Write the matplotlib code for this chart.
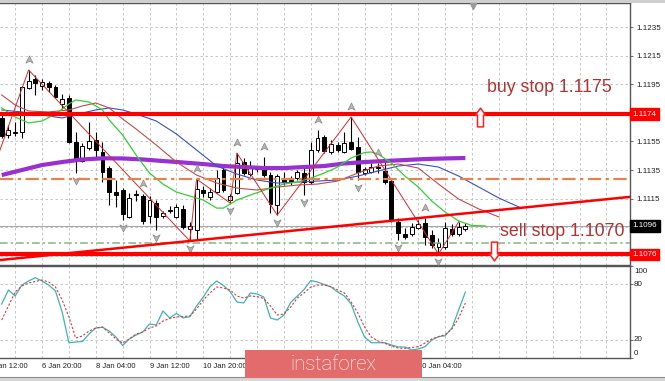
import numpy as np
import matplotlib
matplotlib.use("Agg")
import matplotlib.pyplot as plt
import matplotlib.transforms as mtransforms
from matplotlib.path import Path
from matplotlib.patches import Rectangle

# ----- Chart data (EURUSD H4) -----
bar_open = [1.11714, 1.11595, 1.11619, 1.11616, 1.11924, 1.11987, 1.11938, 1.11959, 1.11931, 1.11812,
            1.11854, 1.11546, 1.11413, 1.11504, 1.11560, 1.11476, 1.11364, 1.11196, 1.11210, 1.11022,
            1.11175, 1.11168, 1.11029, 1.11119, 1.11029, 1.11071, 1.11022, 1.11078, 1.10938, 1.10931,
            1.11210, 1.11161, 1.11196, 1.11350, 1.11140, 1.11189, 1.11406, 1.11322, 1.11361, 1.11364,
            1.11315, 1.11105, 1.11294, 1.11280, 1.11294, 1.11329, 1.11266, 1.11490, 1.11581, 1.11476,
            1.11525, 1.11476, 1.11546, 1.11511, 1.11329, 1.11336, 1.11364, 1.11343, 1.11273, 1.10987,
            1.10903, 1.10903, 1.10945, 1.10980, 1.10896, 1.10812, 1.10812, 1.10938, 1.10903, 1.10938]
bar_high = [1.11735, 1.11665, 1.11686, 1.11938, 1.12050, 1.12015, 1.11987, 1.11973, 1.11945, 1.11882,
            1.11875, 1.11616, 1.11539, 1.11686, 1.11616, 1.11546, 1.11378, 1.11280, 1.11224, 1.11189,
            1.11210, 1.11182, 1.11168, 1.11140, 1.11064, 1.11098, 1.11112, 1.11105, 1.10987, 1.11287,
            1.11238, 1.11224, 1.11350, 1.11378, 1.11182, 1.11469, 1.11434, 1.11413, 1.11378, 1.11441,
            1.11336, 1.11322, 1.11336, 1.11308, 1.11350, 1.11364, 1.11546, 1.11630, 1.11595, 1.11560,
            1.11546, 1.11616, 1.11721, 1.11581, 1.11371, 1.11399, 1.11399, 1.11406, 1.11287, 1.11015,
            1.10945, 1.10980, 1.11001, 1.11015, 1.10931, 1.10875, 1.10987, 1.10973, 1.10987, 1.10980]
bar_low = [1.11574, 1.11574, 1.11588, 1.11574, 1.11917, 1.11875, 1.11910, 1.11896, 1.11861, 1.11777,
           1.11539, 1.11329, 1.11406, 1.11490, 1.11441, 1.11266, 1.11105, 1.11091, 1.11001, 1.11015,
           1.11133, 1.10973, 1.10980, 1.10931, 1.11015, 1.11050, 1.11015, 1.10938, 1.10854, 1.10861,
           1.11161, 1.11140, 1.11189, 1.11196, 1.11119, 1.11182, 1.11315, 1.11308, 1.11336, 1.11301,
           1.11050, 1.11035, 1.11245, 1.11245, 1.11280, 1.11175, 1.11252, 1.11476, 1.11469, 1.11462,
           1.11476, 1.11469, 1.11490, 1.11280, 1.11315, 1.11329, 1.11329, 1.11252, 1.10987, 1.10861,
           1.10868, 1.10889, 1.10938, 1.10826, 1.10805, 1.10763, 1.10798, 1.10889, 1.10889, 1.10924]
bar_close = [1.11588, 1.11630, 1.11612, 1.11931, 1.11973, 1.11959, 1.11966, 1.11931, 1.11861, 1.11847,
             1.11546, 1.11420, 1.11518, 1.11553, 1.11490, 1.11336, 1.11196, 1.11175, 1.11043, 1.11154,
             1.11182, 1.10994, 1.11140, 1.11022, 1.11050, 1.11067, 1.11091, 1.10952, 1.10959, 1.11217,
             1.11189, 1.11196, 1.11294, 1.11210, 1.11168, 1.11399, 1.11329, 1.11364, 1.11357, 1.11315,
             1.11112, 1.11308, 1.11266, 1.11273, 1.11336, 1.11266, 1.11490, 1.11574, 1.11483, 1.11532,
             1.11490, 1.11539, 1.11497, 1.11336, 1.11357, 1.11371, 1.11361, 1.11266, 1.11001, 1.10910,
             1.10882, 1.10952, 1.10973, 1.10882, 1.10826, 1.10840, 1.10945, 1.10903, 1.10952, 1.10959]

# stochastic %K / %D
stoch_k = [58.7, 73.9, 67.4, 79.3, 83.7, 87.3, 83.7, 79.3, 72.8, 50.0,
           16.6, 17.4, 17.9, 26.1, 32.6, 33.4, 29.3, 22.8, 13.6, 20.7,
           25.0, 28.3, 37.0, 35.9, 51.1, 43.5, 48.4, 43.5, 44.9, 56.5,
           66.3, 77.5, 83.7, 78.8, 72.1, 60.9, 59.8, 70.7, 69.6, 66.3,
           43.5, 41.3, 46.7, 60.3, 67.4, 74.5, 84.2, 82.6, 79.9, 77.2,
           71.7, 67.4, 58.7, 39.1, 22.8, 16.6, 16.6, 16.6, 14.1, 12.0,
           12.0, 8.7, 9.8, 12.3, 19.6, 23.2, 24.2, 32.6, 52.2, 71.7]
stoch_d = [41.3, 56.5, 71.7, 78.3, 81.5, 83.2, 84.8, 82.6, 77.2, 63.0,
           44.9, 21.7, 23.9, 29.3, 32.6, 33.7, 27.2, 20.7, 16.3, 20.7,
           26.1, 28.3, 32.6, 34.8, 40.2, 42.9, 44.6, 45.1, 45.7, 53.3,
           63.0, 70.7, 77.2, 76.1, 73.9, 67.4, 65.2, 67.4, 66.8, 64.7,
           56.5, 46.7, 47.8, 55.4, 65.2, 70.7, 77.2, 79.3, 79.3, 77.5,
           73.9, 70.7, 60.9, 48.9, 33.7, 22.8, 18.5, 16.0, 13.0, 10.9,
           10.5, 11.4, 12.3, 16.3, 20.7, 23.2, 25.5, 31.5, 43.5, 59.8]

# moving averages (bar index, price)
ma_bars = [0, 3, 6, 9, 12, 15, 18, 21, 24, 27, 30, 33, 36, 39, 42, 45, 48, 51, 54, 57, 60, 63, 66, 69]
ma_vals = [1.11315, 1.11350, 1.11385, 1.11406, 1.11424, 1.11432, 1.11431, 1.11424, 1.11413, 1.11403,
           1.11392, 1.11378, 1.11371, 1.11364, 1.11364, 1.11371, 1.11378, 1.11396, 1.11406, 1.11413,
           1.11420, 1.11427, 1.11431, 1.11434]
jaw_bars = [0, 3, 6, 9, 12, 14, 16, 18, 20, 23, 26, 29, 32, 35, 38, 41, 44, 47, 50, 53, 56, 59, 62,
            65, 68, 71, 74, 77]
jaw_vals = [1.11770, 1.11756, 1.11735, 1.11714, 1.11749, 1.11770, 1.11784, 1.11770, 1.11742, 1.11693,
            1.11602, 1.11490, 1.11378, 1.11322, 1.11280, 1.11259, 1.11266, 1.11273, 1.11280, 1.11308,
            1.11343, 1.11378, 1.11392, 1.11371, 1.11308, 1.11231, 1.11154, 1.11091]
teeth_bars = [0, 2, 4, 7, 10, 12, 14, 16, 18, 20, 23, 26, 29, 32, 35, 38, 41, 44, 47, 50, 53, 56, 59,
              62, 65, 68, 71, 74]
teeth_vals = [1.11875, 1.11805, 1.11763, 1.11756, 1.11770, 1.11798, 1.11819, 1.11784, 1.11707, 1.11637,
              1.11525, 1.11406, 1.11315, 1.11259, 1.11224, 1.11210, 1.11231, 1.11245, 1.11252, 1.11273,
              1.11329, 1.11378, 1.11392, 1.11364, 1.11252, 1.11147, 1.11078, 1.11022]
lips_bars = [0, 2, 4, 6, 8, 10, 11, 13, 15, 16, 18, 20, 22, 24, 26, 28, 30, 32, 33, 35, 37, 40, 42,
             44, 46, 48, 50, 52, 54, 55, 56, 58, 60, 62, 64, 66, 68, 70, 72]
lips_vals = [1.11784, 1.11721, 1.11679, 1.11693, 1.11742, 1.11812, 1.11840, 1.11826, 1.11770, 1.11700,
             1.11595, 1.11455, 1.11329, 1.11252, 1.11196, 1.11168, 1.11140, 1.11084, 1.11084, 1.11140,
             1.11175, 1.11224, 1.11252, 1.11266, 1.11294, 1.11329, 1.11371, 1.11434, 1.11473, 1.11476,
             1.11462, 1.11399, 1.11308, 1.11231, 1.11133, 1.11056, 1.10994, 1.10962, 1.10959]
zigzag_bars = [-1, 4, 28, 29, 34, 35, 41, 52, 65, 68]
zigzag_vals = [1.11392, 1.12050, 1.10854, 1.11287, 1.11119, 1.11469, 1.11035, 1.11721, 1.10763, 1.10987]
fractal_up = [4, 21, 29, 35, 39, 47, 52, 56, 63]
fractal_down = [11, 18, 23, 28, 34, 41, 45, 53, 59, 65]

# levels and drawn objects
level_buy = 1.1174
level_sell = 1.1076
level_bid = 1.1096
level_buy_order = 1.1175
level_mid = 1.1129
level_low = 1.1084
trend_bars = [0, 93]
trend_vals = [1.10722, 1.11160]

price_ticks = [1.1075, 1.1095, 1.1115, 1.1135, 1.1155, 1.1175, 1.1195, 1.1215, 1.1235]
price_hidden = [1.1075, 1.1095, 1.1175]  # covered by the level boxes
# time labels that are not hidden under the watermark
time_bars = [-2, 6, 14, 22, 30, 62]
time_labels = ["3 Jan 12:00", "6 Jan 20:00", "8 Jan 04:00", "9 Jan 12:00", "10 Jan 20:00",
               "20 Jan 04:00"]

# ----- Figure layout (pixel boxes) -----
plt.rcParams['font.family'] = ['Liberation Sans', 'DejaVu Sans']
W, H = 665.0, 381.0


def px_box(left, top, right, bottom):
    return [left / W, 1 - bottom / H, (right - left) / W, (bottom - top) / H]


fig = plt.figure(figsize=(W / 100, H / 100), dpi=100)
ax = fig.add_axes(px_box(0, 3, 630, 265))
ax2 = fig.add_axes(px_box(0, 266, 630, 358), sharex=ax)

ax.set_xlim(-0.253, 93.5)
ax.set_ylim(1.10686, 1.12518)
ax2.set_ylim(0, 100)

for a in (ax, ax2):
    a.spines['left'].set_visible(False)
    for s in ('top', 'right', 'bottom'):
        a.spines[s].set_color('#555555')
        a.spines[s].set_linewidth(1.0)
    a.tick_params(axis='x', bottom=False, labelbottom=False)

# grid
grid_kw = dict(color='#bdbdbd', lw=0.6, dashes=(3, 3), zorder=0)
for gx in range(2, 94, 4):
    ax.axvline(gx, **grid_kw)
    ax2.axvline(gx, **grid_kw)
for gy in price_ticks:
    ax.axhline(gy, **grid_kw)
for gy in (20, 80):
    ax2.axhline(gy, **grid_kw)

ax.yaxis.tick_right()
ax.set_yticks(price_ticks)
ax.set_yticklabels(["" if p in price_hidden else f"{p:.4f}" for p in price_ticks])
ax.tick_params(axis='y', length=2.5, width=0.6, pad=2, labelsize=5.8,
               labelcolor='#202020', color='#555555')

ax2.yaxis.tick_right()
ax2.set_yticks([0, 20, 80, 100])
ax2.tick_params(axis='y', length=2.5, width=0.6, labelright=False, color='#555555')

# ----- Candles -----
x = np.arange(len(bar_open))
o = np.array(bar_open)
h = np.array(bar_high)
l = np.array(bar_low)
c = np.array(bar_close)
bull = c >= o
body_lo = np.minimum(o, c)
body_h = np.maximum(np.abs(c - o), 0.00007)

ax.vlines(x, l, h, color='black', lw=0.8, zorder=3)
ax.bar(x[bull], body_h[bull], bottom=body_lo[bull], width=0.58,
       color='white', edgecolor='black', linewidth=0.7, zorder=4)
ax.bar(x[~bull], body_h[~bull], bottom=body_lo[~bull], width=0.58,
       color='black', edgecolor='black', linewidth=0.7, zorder=4)

# ----- Indicators -----
ax.plot(ma_bars, ma_vals, color='#9a2fd2', lw=3.0, solid_capstyle='butt', zorder=5)
ax.plot(jaw_bars, jaw_vals, color='#3b4fc6', lw=0.8, zorder=5)
ax.plot(teeth_bars, teeth_vals, color='#c44a4a', lw=0.8, zorder=5)
ax.plot(lips_bars, lips_vals, color='#33d033', lw=0.9, zorder=5)
ax.plot(zigzag_bars, zigzag_vals, color='#d42a2a', lw=0.7, zorder=5)

arrow_up = Path([(0, 1), (0.8, -0.6), (0, -0.15), (-0.8, -0.6), (0, 1)],
                [Path.MOVETO, Path.LINETO, Path.LINETO, Path.LINETO, Path.CLOSEPOLY])
arrow_dn = Path([(0, -1), (0.8, 0.6), (0, 0.15), (-0.8, 0.6), (0, -1)],
                [Path.MOVETO, Path.LINETO, Path.LINETO, Path.LINETO, Path.CLOSEPOLY])
up_tr = mtransforms.offset_copy(ax.transData, fig=fig, x=0, y=7, units='points')
dn_tr = mtransforms.offset_copy(ax.transData, fig=fig, x=0, y=-5, units='points')
ax.plot(fractal_up, h[fractal_up], ls='none', marker=arrow_up, ms=6.5,
        mfc='#b4b4b4', mec='#8a8a8a', mew=0.5, transform=up_tr, zorder=6)
ax.plot(fractal_down, l[fractal_down], ls='none', marker=arrow_dn, ms=6.5,
        mfc='#b4b4b4', mec='#8a8a8a', mew=0.5, transform=dn_tr, zorder=6)

# ----- Levels -----
ax.axhline(level_bid, color='#a9a9a9', lw=0.8, zorder=2)
ax.axhline(level_buy_order, color='#2f6b2f', lw=0.9, dashes=(5, 2.5), zorder=6)
ax.axhline(level_mid, color='#e8824c', lw=1.6, dashes=(6, 2, 1.5, 2), zorder=6)
ax.axhline(level_low, color='#86b386', lw=1.1, dashes=(5, 2, 1.5, 2), zorder=6)
ax.axhline(level_buy, color='#ff0000', lw=3.0, zorder=7)
ax.axhline(level_sell, color='#ff0000', lw=3.0, zorder=7)
ax.axline((trend_bars[0], trend_vals[0]), (trend_bars[1], trend_vals[1]),
          color='#ff0000', lw=1.8, zorder=7)

hollow_up = Path([(0, 1), (0.53, 0.26), (0.32, 0.26), (0.32, -1), (-0.32, -1),
                  (-0.32, 0.26), (-0.53, 0.26), (0, 1)],
                 [Path.MOVETO] + [Path.LINETO] * 6 + [Path.CLOSEPOLY])
hollow_dn = Path([(0, -1), (0.53, -0.26), (0.32, -0.26), (0.32, 1), (-0.32, 1),
                  (-0.32, -0.26), (-0.53, -0.26), (0, -1)],
                 [Path.MOVETO] + [Path.LINETO] * 6 + [Path.CLOSEPOLY])
ax.plot([71.2], [1.11720], marker=hollow_up, ms=13.5, mfc='white', mec='#ff2020',
        mew=1.1, ls='none', zorder=8)
ax.plot([73.3], [1.10785], marker=hollow_dn, ms=13.5, mfc='white', mec='#ff2020',
        mew=1.1, ls='none', zorder=8)

ax.text(0.773, 0.679, "buy stop 1.1175", transform=ax.transAxes, fontsize=12.8,
        color='#b03434', ha='left', va='center', zorder=9)
ax.text(0.794, 0.126, "sell stop 1.1070", transform=ax.transAxes, fontsize=12.8,
        color='#b03434', ha='left', va='center', zorder=9)

# price boxes on the right axis
box_tr = mtransforms.blended_transform_factory(ax.transAxes, ax.transData)
for val, fc in ((level_buy, '#ff0000'), (level_bid, '#000000'), (level_sell, '#ff0000')):
    ax.text(1.0 + 2.5 / 630, val, f"{val:.4f}", transform=box_tr, fontsize=5.8,
            color='white', ha='left', va='center', zorder=10, clip_on=False,
            bbox=dict(boxstyle='square,pad=0.3', fc=fc, ec=fc))

# ----- Stochastic -----
ax2.plot(x, stoch_k, color='#3fb3b3', lw=0.9, zorder=4)
ax2.plot(x, stoch_d, color='#e03a3a', lw=0.8, dashes=(2, 1.6), zorder=5)

lab_tr = mtransforms.blended_transform_factory(ax2.transAxes, ax2.transData)
for txt, pos in (("100", 93.5), ("80", 80), ("20", 20), ("0", 5.4)):
    ax2.text(1.0 + 4 / 630, pos, txt, transform=lab_tr, fontsize=5.8, color='#202020',
             ha='left', va='center', clip_on=False)

time_tr = mtransforms.blended_transform_factory(ax2.transData, ax2.transAxes)
for tb, tl in zip(time_bars, time_labels):
    ax2.text(tb, -0.087, tl, transform=time_tr, fontsize=5.5, color='#202020',
             ha='left', va='center', clip_on=False)

# ----- Window frame and watermark -----
fig.patches.append(Rectangle((0, 1 - 2.5 / H), 1, 2.5 / H, transform=fig.transFigure,
                             fc='#cfcfcf', ec='none', zorder=0))
fig.patches.append(Rectangle((0, 0), 1, 4 / H, transform=fig.transFigure,
                             fc='#d6d6d6', ec='none', zorder=0))
fig.lines.append(plt.Line2D([0, 1], [4 / H, 4 / H], transform=fig.transFigure,
                            color='#8c8c8c', lw=0.8))
fig.lines.append(plt.Line2D([473 / W], [1 - 5.5 / H], transform=fig.transFigure,
                            marker='v', ms=4.5, color='#9a9a9a', ls='none'))

wm = Rectangle((245 / W, 3 / H), 177 / W, 28 / H, transform=fig.transFigure,
               fc='#e26b6b', ec='none', zorder=20)
fig.patches.append(wm)
fig.text(333 / W, 1 - 364 / H, "instaforex", fontsize=14.5, color='white',
         family=['Roboto', 'DejaVu Sans'], fontweight='light',
         ha='center', va='center', zorder=21)

fig.savefig("out.png", dpi=100)
